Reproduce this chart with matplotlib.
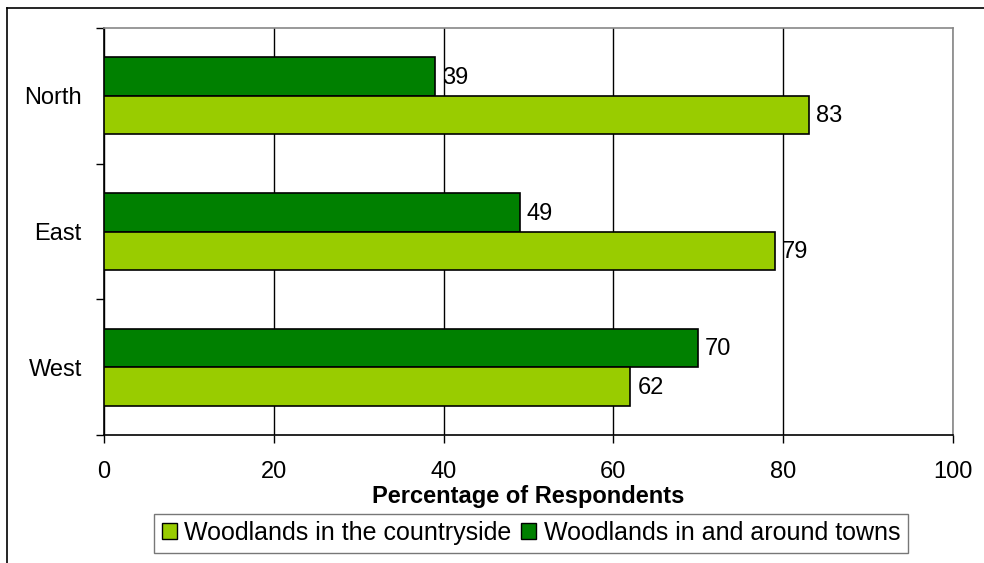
import matplotlib
matplotlib.use('Agg')
import matplotlib.pyplot as plt
from matplotlib.lines import Line2D
from matplotlib.patches import Patch
import numpy as np

regioes = ['North', 'East', 'West']
campo = [83, 79, 62]      # Woodlands in the countryside
cidades = [39, 49, 70]    # Woodlands in and around towns

cor_campo = '#99CC00'
cor_cidades = '#008000'

plt.rcParams['font.family'] = ['Liberation Sans', 'DejaVu Sans']
fs = 17

fig = plt.figure(figsize=(9.84, 5.63), dpi=100)
ax = fig.add_axes([104/984, 1-435/563, (953-104)/984, (435-28)/563])

y = np.arange(len(regioes))
h = 0.284
b1 = ax.barh(y - h/2, cidades, height=h, color=cor_cidades, edgecolor='black', lw=1.2, zorder=3)
b2 = ax.barh(y + h/2, campo, height=h, color=cor_campo, edgecolor='black', lw=1.2, zorder=3)

for barras, vals in ((b1, cidades), (b2, campo)):
    for r, v in zip(barras, vals):
        ax.annotate(str(v), (v, r.get_y() + r.get_height()/2), xytext=(5, -1), textcoords='offset points',
                    va='center', ha='left', fontsize=fs)

ax.set_xlim(0, 100)
ax.set_ylim(2.5, -0.5)
ax.set_xticks(np.arange(0, 101, 20))
ax.set_yticks(y)
ax.set_yticklabels(regioes)
ax.set_yticks(np.arange(-0.5, 3, 1), minor=True)
ax.tick_params(axis='y', which='major', length=0, pad=16, labelsize=fs)
ax.tick_params(axis='y', which='minor', length=6, direction='out', width=1)
ax.tick_params(axis='x', length=6, direction='out', width=1, labelsize=fs, pad=13)
ax.xaxis.grid(True, color='black', lw=1, zorder=1)
ax.spines['top'].set_color('#888888')
ax.spines['right'].set_color('#888888')
ax.spines['left'].set_color('black')
ax.spines['bottom'].set_color('black')
for s in ax.spines.values():
    s.set_linewidth(1.2)

ax.set_xlabel('Percentage of Respondents', fontsize=fs, fontweight='bold', labelpad=1)

handles = [Patch(facecolor=cor_campo, edgecolor='black'), Patch(facecolor=cor_cidades, edgecolor='black')]
leg = fig.legend(handles, ['Woodlands in the countryside', 'Woodlands in and around towns'],
                 loc='center', bbox_to_anchor=(531/984, 1-533/563), ncol=2, fontsize=18,
                 frameon=True, fancybox=False, edgecolor='#555555', handlelength=0.6, handleheight=0.6,
                 handletextpad=0.3, columnspacing=0.4, borderpad=0.3, borderaxespad=0)
leg.get_frame().set_linewidth(1)

# moldura externa
fig.add_artist(Line2D([7/984, 7/984], [0, 1-8/563], color='black', lw=1.2, transform=fig.transFigure))
fig.add_artist(Line2D([7/984, 1], [1-8/563, 1-8/563], color='black', lw=1.2, transform=fig.transFigure))

plt.savefig('out.png', dpi=100)
